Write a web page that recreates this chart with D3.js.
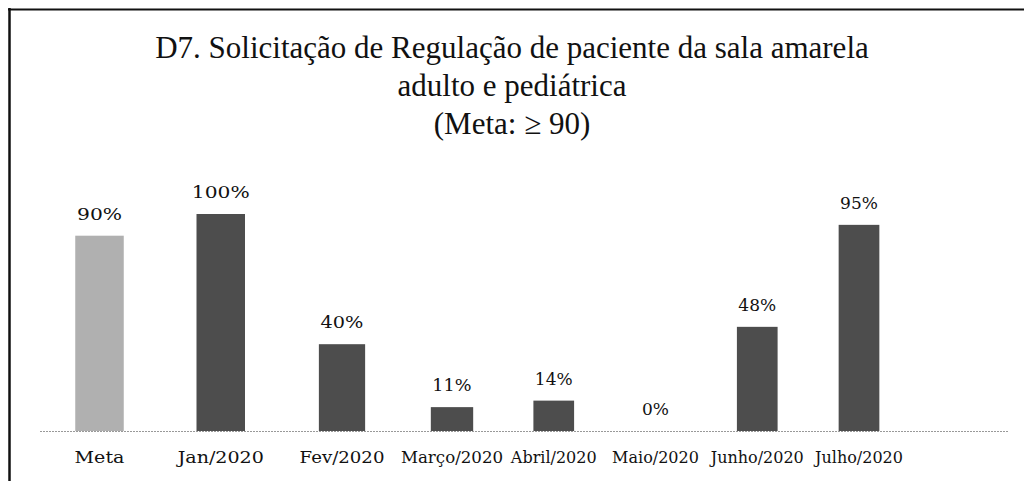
<!DOCTYPE html>
<html>
<head>
<meta charset="utf-8">
<script src="https://cdn.jsdelivr.net/npm/d3@7"></script>
<style>
  body { margin: 0; background: #fff; }
  text { font-family: "DejaVu Serif", serif; fill: #111; }
  .title { font-family: "Liberation Serif", serif; }
</style>
</head>
<body>
<script>
var width = 1024, height = 481;

var titleLines = ["D7. Solicitação de Regulação de paciente da sala amarela",
                  "adulto e pediátrica",
                  "(Meta: ≥ 90)"];
var categories = ["Meta", "Jan/2020", "Fev/2020", "Março/2020", "Abril/2020", "Maio/2020", "Junho/2020", "Julho/2020"];
var values = [90, 100, 40, 11, 14, 0, 48, 95];
var valueLabels = ["90%", "100%", "40%", "11%", "14%", "0%", "48%", "95%"];

var svg = d3.select("body")
  .append("svg")
  .attr("width", width)
  .attr("height", height);

// the scan is squeezed unevenly, so category centres follow a piecewise scale
var xScale = d3.scaleLinear()
  .domain([0, 2, 3, 7])
  .range([99.5, 342, 452, 859]);

var yScale = d3.scaleLinear()
  .domain([0, 100])
  .range([431, 214]);

function step(i) {
  return xScale(i + 0.5) - xScale(i - 0.5);
}
function barWidth(i) {
  return 0.4 * step(i);
}
// horizontal stretch of the scan around category i, relative to the right side
function stretch(i) {
  return step(i) / step(7);
}

// frame: top and left edges only
svg.append("line")
  .attr("x1", 8).attr("x2", width)
  .attr("y1", 9.5).attr("y2", 9.5)
  .attr("stroke", "#111").attr("stroke-width", 2);
svg.append("line")
  .attr("x1", 9.5).attr("x2", 9.5)
  .attr("y1", 8).attr("y2", height)
  .attr("stroke", "#111").attr("stroke-width", 2.5);

svg.selectAll(".title")
  .data(titleLines)
  .enter()
  .append("text")
  .attr("class", "title")
  .attr("x", 512)
  .attr("y", function(d, i) { return 58 + i * 38; })
  .attr("text-anchor", "middle")
  .attr("font-size", "31px")
  .text(function(d) { return d; });

// baseline
svg.append("line")
  .attr("x1", 40).attr("x2", 1008)
  .attr("y1", yScale(0) + 0.5).attr("y2", yScale(0) + 0.5)
  .attr("stroke", "#999")
  .attr("stroke-width", 1)
  .attr("stroke-dasharray", "2,1");

svg.selectAll(".bar")
  .data(values)
  .enter()
  .append("rect")
  .attr("class", "bar")
  .attr("x", function(d, i) { return xScale(i) - barWidth(i) / 2; })
  .attr("y", function(d) { return yScale(d); })
  .attr("width", function(d, i) { return barWidth(i); })
  .attr("height", function(d) { return yScale(0) - yScale(d); })
  .attr("fill", function(d, i) { return i === 0 ? "#b0b0b0" : "#4d4d4d"; });

svg.selectAll(".valueLabel")
  .data(values)
  .enter()
  .append("text")
  .attr("class", "valueLabel")
  .attr("transform", function(d, i) {
    return "translate(" + xScale(i) + "," + (yScale(d) - 16) + ") scale(" + stretch(i) + ",1)";
  })
  .attr("text-anchor", "middle")
  .attr("font-size", "17px")
  .text(function(d, i) { return valueLabels[i]; });

svg.selectAll(".catLabel")
  .data(categories)
  .enter()
  .append("text")
  .attr("class", "catLabel")
  .attr("transform", function(d, i) {
    return "translate(" + xScale(i) + ",463) scale(" + stretch(i) + ",1)";
  })
  .attr("text-anchor", "middle")
  .attr("font-size", "16px")
  .text(function(d) { return d; });
</script>
</body>
</html>
